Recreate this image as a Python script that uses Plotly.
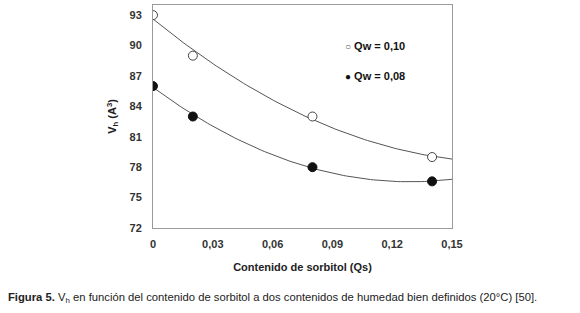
import numpy as np
import plotly.graph_objects as go

qs = [0, 0.02, 0.08, 0.14]
vh_qw010 = [93, 89, 83, 79]
vh_qw008 = [86, 83, 78, 76.6]
x_ticks = [0, 0.03, 0.06, 0.09, 0.12, 0.15]
x_ticktext = ["0", "0,03", "0,06", "0,09", "0,12", "0,15"]
y_ticks = [72, 75, 78, 81, 84, 87, 90, 93]

xs = np.linspace(0, 0.15, 100)
fit1 = np.polyval(np.polyfit(qs, vh_qw010, 2), xs)
fit2 = np.polyval(np.polyfit(qs, vh_qw008, 2), xs)

FONT = "Liberation Sans, Arial"

fig = go.Figure()
fig.add_trace(go.Scatter(x=xs, y=fit1, mode="lines", line=dict(color="#555", width=1), showlegend=False, hoverinfo="skip"))
fig.add_trace(go.Scatter(x=xs, y=fit2, mode="lines", line=dict(color="#555", width=1), showlegend=False, hoverinfo="skip"))
fig.add_trace(go.Scatter(x=qs, y=vh_qw010, mode="markers", name="Qw = 0,10", showlegend=False,
                         marker=dict(symbol="circle", size=9, color="white", line=dict(color="#444", width=1))))
fig.add_trace(go.Scatter(x=qs, y=vh_qw008, mode="markers", name="Qw = 0,08", showlegend=False,
                         marker=dict(symbol="circle", size=9, color="#111", line=dict(color="#111", width=1))))

axis_common = dict(showgrid=False, zeroline=False, showline=True, linecolor="#9a9a9a", linewidth=1,
                   mirror=True, ticks="", tickfont=dict(family=FONT, size=11, color="#333", weight="bold"))
fig.update_xaxes(range=[0, 0.15], tickvals=x_ticks, ticktext=x_ticktext, ticklabelstandoff=6,
                 title=dict(text="<b>Contenido de sorbitol (Qs)</b>", font=dict(family=FONT, size=11, color="#222"), standoff=14),
                 **axis_common)
fig.update_yaxes(range=[72, 94], tickvals=y_ticks, ticklabelstandoff=8,
                 title=dict(text="<b>V<sub>h</sub> (A<sup>3</sup>)</b>", font=dict(family=FONT, size=11, color="#222"), standoff=10),
                 **axis_common)

# legend drawn as annotations
fig.add_annotation(x=0.634, y=0.816, xref="paper", yref="paper", xanchor="left", yanchor="middle", showarrow=False,
                   text="<span style='font-size:10px;color:#555'>○</span> <b>Qw = 0,10</b>",
                   font=dict(family=FONT, size=11, color="#111"))
fig.add_annotation(x=0.634, y=0.681, xref="paper", yref="paper", xanchor="left", yanchor="middle", showarrow=False,
                   text="<span style='font-size:10px'>●</span> <b>Qw = 0,08</b>",
                   font=dict(family=FONT, size=11, color="#111"))

# caption
fig.add_annotation(x=-0.491, y=-0.314, xref="paper", yref="paper", xanchor="left", yanchor="middle", showarrow=False,
                   text="<b>Figura 5.</b> V<sub>h</sub> en función del contenido de sorbitol a dos contenidos de humedad bien definidos (20°C) [50].",
                   font=dict(family=FONT, size=11.25, color="#222"))

fig.update_layout(
    width=580, height=313,
    margin=dict(l=153, r=128, t=5, b=85),
    paper_bgcolor="white", plot_bgcolor="white",
    font=dict(family=FONT, color="#222"),
    showlegend=False,
)
fig.write_html("out.html", config={"displayModeBar": False},
               post_script="document.body.style.margin='0';document.body.style.padding='0';")
